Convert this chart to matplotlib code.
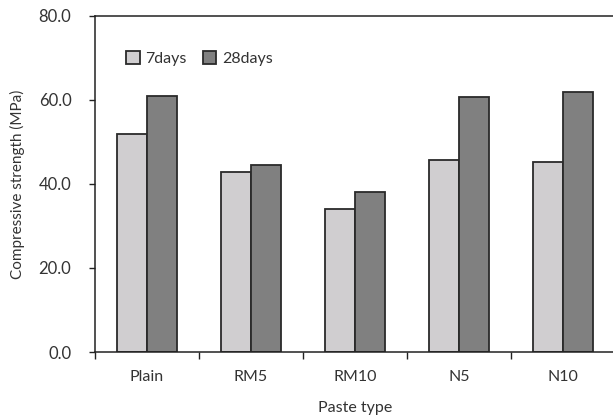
import matplotlib
matplotlib.use("Agg")
import matplotlib.pyplot as plt
import numpy as np

categories = ["Plain", "RM5", "RM10", "N5", "N10"]
days7 = [52.0, 42.9, 34.0, 45.8, 45.2]
days28 = [61.0, 44.6, 38.0, 60.6, 62.0]
series_labels = ["7days", "28days"]
yticks = [0, 20, 40, 60, 80]

plt.rcParams['font.family'] = ['Lato', 'DejaVu Sans']
W, H = 613, 419
fig = plt.figure(figsize=(W/100, H/100), dpi=100)
ax = fig.add_axes([95/W, 1-352/H, 520/W, 336/H])

fs = 11
x = np.arange(len(categories))
bw = 0.285
ax.bar(x - bw/2, days7, bw, color='#D0CED0', edgecolor='#2a2a2a', linewidth=1.3, label=series_labels[0])
ax.bar(x + bw/2, days28, bw, color='#808080', edgecolor='#2a2a2a', linewidth=1.3, label=series_labels[1])

ax.set_xlim(-0.5, len(categories) - 0.5)
ax.set_ylim(0, 80)
ax.set_yticks(yticks)
ax.set_yticklabels([f"{v:.1f}" for v in yticks], fontsize=12, color='#333333')
ax.set_xticks(x)
ax.set_xticklabels(categories, fontsize=11.5, color='#333333')
ax.tick_params(axis='x', length=0, pad=13)
ax.set_xticks(np.arange(-0.5, len(categories)), minor=True)
ax.tick_params(axis='x', which='minor', length=5, width=1, color='#222222')
ax.tick_params(axis='y', length=4, width=1, color='#222222', pad=13)

for s in ['left', 'bottom', 'top']:
    ax.spines[s].set_color('#222222')
    ax.spines[s].set_linewidth(1.1)
ax.spines['right'].set_visible(False)

ax.set_ylabel("Compressive strength (MPa)", fontsize=fs, color='#333333', labelpad=10)
ax.set_xlabel("Paste type", fontsize=11.5, color='#333333', labelpad=12)

leg = ax.legend(loc='upper left', bbox_to_anchor=(0.048, 0.915), ncol=2, frameon=False,
                fontsize=11.5, handlelength=0.85, handleheight=0.85, handletextpad=0.35,
                columnspacing=1.0, borderaxespad=0)
for t in leg.get_texts():
    t.set_color('#333333')

fig.savefig("out.png", dpi=100)
